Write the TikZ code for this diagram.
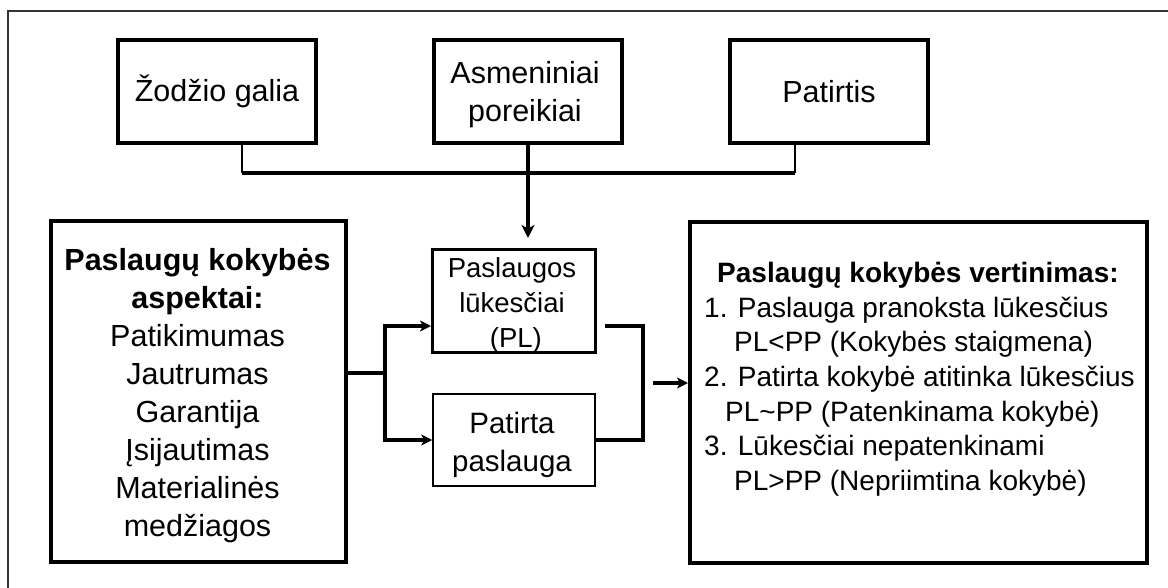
\documentclass[tikz,border=0pt]{standalone}
\usepackage{fontspec}
\setmainfont{Liberation Sans}
\usetikzlibrary{arrows.meta,calc}

\begin{document}
\begin{tikzpicture}[x=1pt,y=-1pt,
  box/.style={draw, line width=4pt, inner sep=0pt, align=center},
  midbox/.style={draw, line width=3pt, inner sep=0pt},
  lightbox/.style={draw, line width=1.5pt, inner sep=0pt},
  conn/.style={line width=3.5pt},
  feed/.style={line width=1.5pt},
  tip/.style={-{Stealth[length=11pt,width=11pt,inset=3pt]}},
  bigtip/.style={-{Stealth[length=13pt,width=13pt,inset=3.5pt]}},
  bigtext/.style={font=\fontsize{30.5}{38}\selectfont},
  midtext/.style={font=\fontsize{27.5}{34.8}\selectfont},
  txt/.style={inner sep=0pt, align=center},
]
\useasboundingbox (0,0) rectangle (1168,587);

% outer frame (runs past the right and bottom edges)
\draw[line width=1.2pt, black!80] (8,11) rectangle (1190,610);

% influencing factors
\node[box, bigtext, minimum width=198pt, minimum height=103pt] (zod) at (217,91.5) {Žodžio galia};
\node[box, minimum width=188pt, minimum height=103pt] (asm) at (528,91.5) {};
\node[txt, bigtext, anchor=north] (asmT) at (525,61.2) {Asmeniniai\\poreikiai};
\node[box, bigtext, minimum width=198pt, minimum height=103pt] (pat) at (829,91.5) {Patirtis};

% quality aspects
\node[box, minimum width=295pt, minimum height=341pt] (asp) at (198.5,391.5) {};
\node[txt, bigtext, anchor=north] (aspT) at (197.5,248) {\textbf{Paslaugų kokybės}\\\textbf{aspektai:}\\Patikimumas\\Jautrumas\\Garantija\\Įsijautimas\\Materialinės\\medžiagos};

% expected and perceived service
\node[midbox, minimum width=163pt, minimum height=103pt] (pl) at (514,301) {};
\node[txt, midtext, anchor=north] (plT) at (512,257.3) {Paslaugos\\lūkesčiai\\\ (PL)};
\node[lightbox, minimum width=162pt, minimum height=92pt] (pp) at (514,440) {};
\node[txt, font=\fontsize{29.5}{37.7}\selectfont, anchor=north] (ppT) at (512,412) {Patirta\\paslauga};

% evaluation
\node[box, minimum width=457pt, minimum height=341pt] (vert) at (918.5,392.5) {};
\node[inner sep=0pt, align=left, anchor=north west, font=\fontsize{28}{34.7}\selectfont] (vertT) at (704,262) {%
\hspace*{13pt}\textbf{Paslaugų kokybės vertinimas:}\\
1. Paslauga pranoksta lūkesčius\\
\hspace*{30pt}PL<PP (Kokybės staigmena)\\
2. Patirta kokybė atitinka lūkesčius\\
\hspace*{21pt}PL\textasciitilde PP (Patenkinama kokybė)\\
3. Lūkesčiai nepatenkinami\\
\hspace*{30pt}PL>PP (Nepriimtina kokybė)};

% collecting bus under the top row
\coordinate (bus) at (528,173);
\coordinate (zdrop) at ([xshift=25pt]zod.south);
\coordinate (pdrop) at ([xshift=-34pt]pat.south);
\draw[feed] (zdrop) -- (zdrop |- bus);
\draw[feed] (pdrop) -- (pdrop |- bus);
\draw[conn] (zdrop |- bus) -- (pdrop |- bus);
\draw[conn, bigtip, shorten >=10pt] (asm.south) -- (asm.south |- pl.north);

% fork from the aspects box
\coordinate (forkL) at (385,373);
\draw[conn] (asp.east |- forkL) -- (forkL);
\draw[conn, tip] (forkL) |- ([yshift=-25pt]pl.west);
\draw[conn, tip] (forkL) |- (pp.west);

% comparison bracket into the evaluation box
\coordinate (brk) at (643,383);
\draw[conn] ([xshift=8pt,yshift=-25pt]pl.east) -| (brk) |- (pp.east);
\draw[conn, tip] ([xshift=10pt]brk) -- (vert.west |- brk);
\end{tikzpicture}
\end{document}
